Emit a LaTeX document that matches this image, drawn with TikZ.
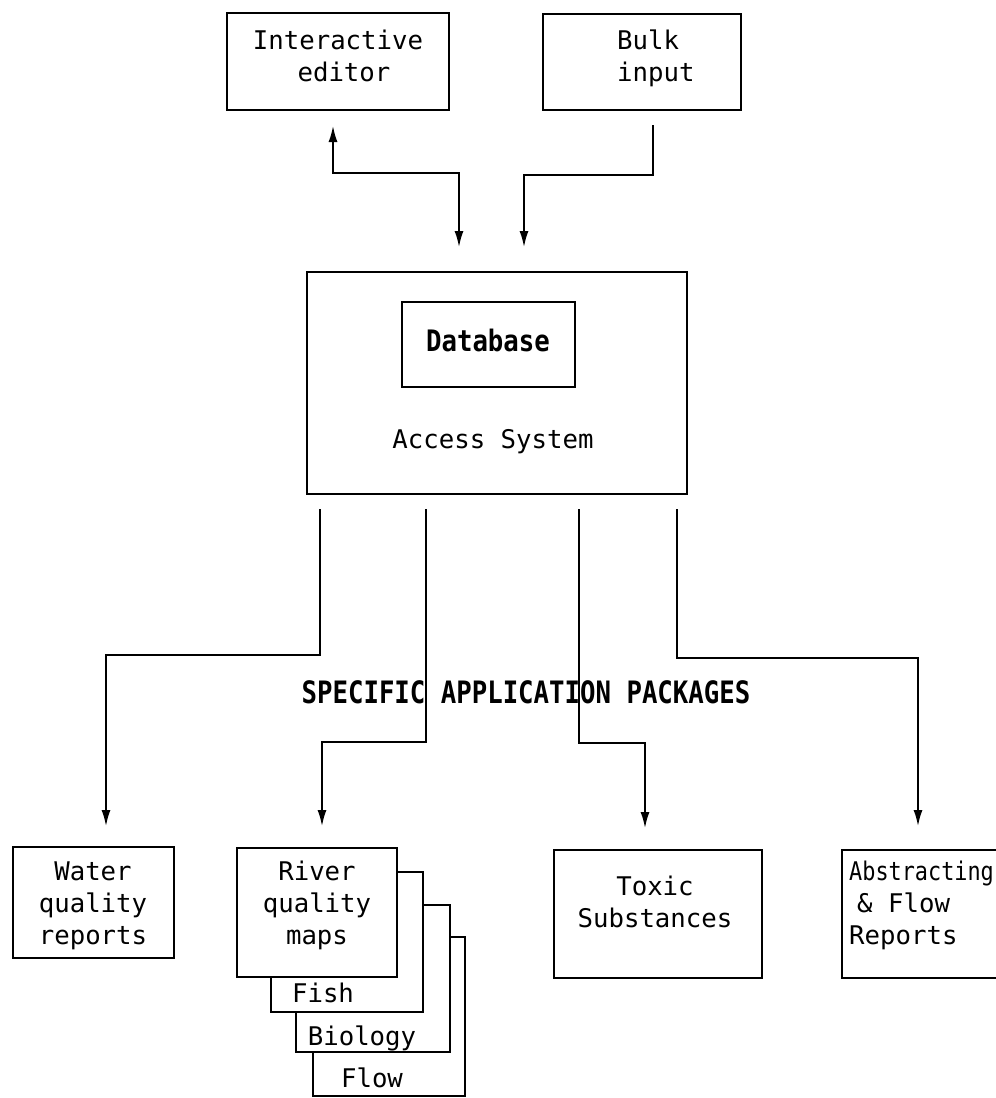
\documentclass[tikz,border=0pt]{standalone}
\usepackage{fontspec}
\setmonofont{DejaVu Sans Mono}
\usetikzlibrary{arrows.meta}
\tikzset{
  box/.style={draw, line width=2.6pt, fill=white, inner sep=0pt},
  txt/.style={font=\ttfamily\fontsize{25.7}{32}\selectfont, align=center, inner sep=0pt},
  btxt/.style={font=\ttfamily\bfseries\fontsize{25.7}{32}\selectfont, inner sep=0pt},
  conn/.style={line width=2.6pt, -{Latex[length=17pt,width=9pt]}},
  dconn/.style={line width=2.6pt, {Latex[length=17pt,width=9pt]}-{Latex[length=17pt,width=9pt]}}
}
\begin{document}
\begin{tikzpicture}[x=1pt,y=-1pt]
\useasboundingbox (0,0) rectangle (996,1098);
\clip (0,0) rectangle (996,1098);
% top boxes
\node[box, minimum width=222pt, minimum height=97pt] (ie) at (338,61.5) {};
\node[txt] (ieT) at (338,56) {Interactive\\\hspace*{12pt}editor};
\node[box, minimum width=198pt, minimum height=96pt] (bi) at (642,62) {};
\node[txt, align=left, anchor=west] (biT) at (617,58) {Bulk\\input};
% access system
\node[box, minimum width=380pt, minimum height=222pt] (acc) at (497,383) {};
\node[box, minimum width=173pt, minimum height=85pt] (db) at (488.5,344.5) {};
\node[btxt] (dbT) at (488,340) {\scalebox{1}[1.15]{Database}};
\node[txt] (accT) at (493,442) {Access System};
% top connectors
\coordinate (ieA) at (333,125);
\coordinate (ieB) at (459,173);
\coordinate (ieC) at (459,248);
\coordinate (biA) at (653,125);
\coordinate (biB) at (524,175);
\coordinate (biC) at (524,248);
\draw[dconn] (ieA) |- (ieB) -- (ieC);
\draw[conn] (biA) |- (biB) -- (biC);
% heading
\node[btxt] (spec) at (526,692) {\scalebox{1}[1.2]{SPECIFIC APPLICATION PACKAGES}};
% down connectors
\coordinate (d1a) at (320,509); \coordinate (d1b) at (106,655); \coordinate (d1c) at (106,827);
\coordinate (d2a) at (426,509); \coordinate (d2b) at (322,742); \coordinate (d2c) at (322,827);
\coordinate (d3a) at (579,509); \coordinate (d3b) at (645,743); \coordinate (d3c) at (645,829);
\coordinate (d4a) at (677,509); \coordinate (d4b) at (918,658); \coordinate (d4c) at (918,827);
\draw[conn] (d1a) |- (d1b) -- (d1c);
\draw[conn] (d2a) |- (d2b) -- (d2c);
\draw[conn] (d3a) |- (d3b) -- (d3c);
\draw[conn] (d4a) |- (d4b) -- (d4c);
% bottom boxes
\node[box, minimum width=161pt, minimum height=111pt] (wq) at (93.5,902.5) {};
\node[txt] (wqT) at (93,906) {Water\\quality\\reports};
% stacked river quality maps
\node[box, minimum width=152pt, minimum height=159pt] (flow) at (389,1016.5) {};
\node[txt] (flowT) at (372,1078) {Flow};
\node[box, minimum width=154pt, minimum height=147pt] (bio) at (373,978.5) {};
\node[txt] (bioT) at (362,1038) {Biology};
\node[box, minimum width=152pt, minimum height=140pt] (fish) at (347,942) {};
\node[txt] (fishT) at (323,993) {Fish};
\node[box, minimum width=160pt, minimum height=129pt] (rq) at (317,912.5) {};
\node[txt] (rqT) at (317,905) {River\\quality\\maps};
% toxic
\node[box, minimum width=208pt, minimum height=128pt] (tx) at (658,914) {};
\node[txt] (txT) at (655,902) {Toxic\\Substances};
% abstracting
\node[box, minimum width=200pt, minimum height=128pt] (ab) at (942,914) {};
\node[txt, align=left, anchor=north west] (abT) at (849,861) {\scalebox{0.85}[1]{Abstracting}\\\hspace*{8pt}\&~Flow\\Reports};
\end{tikzpicture}
\end{document}
